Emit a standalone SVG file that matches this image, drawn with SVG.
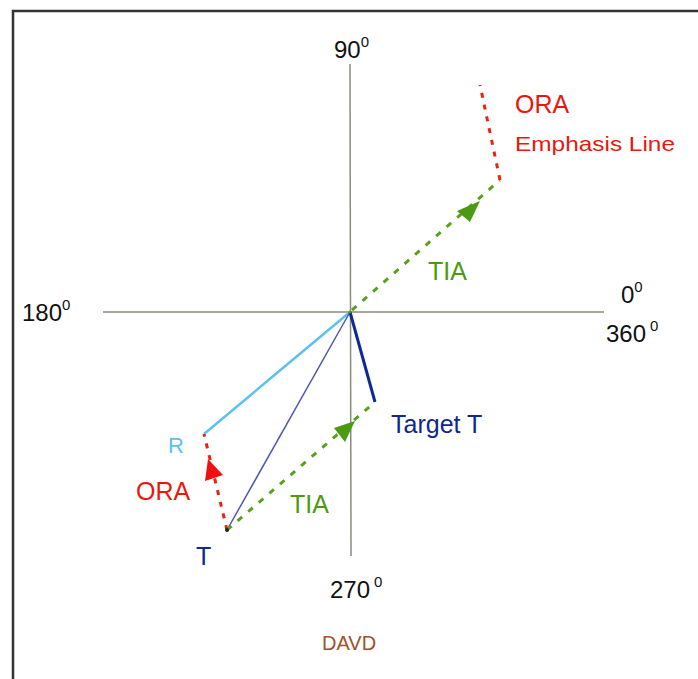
<svg xmlns="http://www.w3.org/2000/svg" width="698" height="679" viewBox="0 0 698 679">
<style>
text{font-family:"Liberation Sans",Arial,sans-serif}
.ax{font-size:24px;fill:#111}
.sup{font-size:15px}
.axis{stroke:#8a8a80;stroke-width:1.5;fill:none}
.grn{stroke:#5aa01e;stroke-width:3;stroke-dasharray:6 8;fill:none}
.red{stroke:#f02010;stroke-width:3;stroke-dasharray:5 7;fill:none}
</style>
<rect width="698" height="679" fill="#fff"/>
<path d="M13,679 V11 H698" fill="none" stroke="#333" stroke-width="2.5"/>
<g id="axes">
<line class="axis" x1="350" y1="64" x2="351" y2="556"/>
<line class="axis" x1="103" y1="312" x2="604" y2="312"/>
</g>
<g id="connectors">
<line x1="350" y1="312" x2="204" y2="434" stroke="#5ec0f2" stroke-width="2.5"/>
<line x1="350" y1="312" x2="227" y2="530" stroke="#5058b0" stroke-width="1.5"/>
<line x1="350" y1="312" x2="375" y2="402" stroke="#102a90" stroke-width="3"/>
<line class="grn" x1="352" y1="310" x2="500" y2="180"/>
<line class="grn" x1="227" y1="530" x2="375" y2="402"/>
<line class="red" x1="500" y1="180" x2="480" y2="85"/>
<line class="red" x1="227" y1="530" x2="204" y2="434"/>
<polygon points="457,211 480,201 470,222" fill="#4a9a12"/>
<polygon points="334,428 355,421 345,442" fill="#4a9a12"/>
<polygon points="208,459 223,475 205,481" fill="#f01010"/>
<circle cx="227" cy="530" r="2" fill="#222"/>
<circle cx="350" cy="312" r="1.5" fill="#4a9a12"/>
</g>
<g id="labels">
<text class="ax" x="334" y="58">90<tspan class="sup" dy="-11">0</tspan></text>
<text class="ax" x="22" y="321">180<tspan class="sup" dy="-11">0</tspan></text>
<text class="ax" x="621" y="303">0<tspan class="sup" dy="-11">0</tspan></text>
<text class="ax" x="606" y="342">360<tspan class="sup" dy="-11" dx="4">0</tspan></text>
<text class="ax" x="330" y="598">270<tspan class="sup" dy="-11" dx="4">0</tspan></text>
<text x="322" y="650" font-size="20" fill="#a0522d">DAVD</text>
<text x="515" y="113" font-size="25" fill="#e8180c">ORA</text>
<text x="515" y="151" font-size="21" fill="#e8180c" textLength="160" lengthAdjust="spacingAndGlyphs">Emphasis Line</text>
<text x="428" y="280" font-size="25" fill="#4a9a12">TIA</text>
<text x="290" y="513" font-size="25" fill="#4a9a12">TIA</text>
<text x="391" y="433" font-size="25" fill="#10288a">Target T</text>
<text x="168" y="453" font-size="22" fill="#5ec0f2">R</text>
<text x="136" y="500" font-size="25" fill="#e8180c">ORA</text>
<text x="196" y="565" font-size="25" fill="#10288a">T</text>
</g>
</svg>
